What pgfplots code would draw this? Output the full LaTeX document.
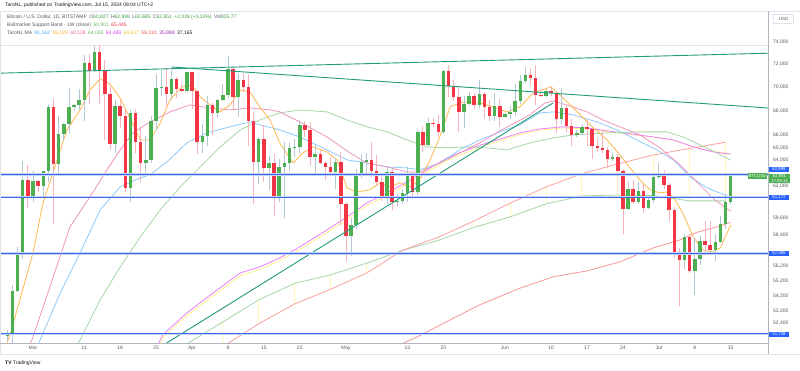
\documentclass[border=0pt]{standalone}
\usepackage{fontspec}
\setmainfont{Liberation Sans}
\usepackage{pgfplots}
\pgfplotsset{compat=1.18}
\definecolor{tvgreen}{RGB}{76,175,80}
\definecolor{tvred}{RGB}{242,54,69}
\definecolor{wickg}{RGB}{178,200,212}
\definecolor{wickr}{RGB}{248,178,186}
\definecolor{hblue}{RGB}{60,105,235}
\definecolor{boxblue}{RGB}{41,98,255}
\definecolor{trendteal}{RGB}{34,155,125}
\definecolor{maorange}{RGB}{255,183,77}
\definecolor{mablue}{RGB}{144,202,249}
\definecolor{mapink}{RGB}{240,150,190}
\definecolor{magreen}{RGB}{165,214,167}
\definecolor{maviolet}{RGB}{234,128,252}
\definecolor{mayellow}{RGB}{255,238,140}
\definecolor{masalmon}{RGB}{248,150,150}
\definecolor{bandred}{RGB}{250,160,160}
\definecolor{bandgreen}{RGB}{165,214,167}
\definecolor{bandfill}{RGB}{255,245,185}
\definecolor{txtgray}{RGB}{85,90,100}
\definecolor{txtdark}{RGB}{19,23,34}
\definecolor{gridgray}{RGB}{224,227,235}
\definecolor{sepgray}{RGB}{178,181,190}
\definecolor{lgreen}{RGB}{67,160,71}
\definecolor{lred}{RGB}{242,54,69}
\definecolor{lblue}{RGB}{66,165,245}
\definecolor{lorange}{RGB}{255,167,38}
\definecolor{lpink}{RGB}{240,98,146}
\definecolor{lgreen2}{RGB}{102,187,106}
\definecolor{lmag}{RGB}{224,64,251}
\definecolor{lyellow}{RGB}{240,200,40}
\definecolor{lsal}{RGB}{239,83,80}
\definecolor{lpurple}{RGB}{156,39,176}
\begin{document}
\begin{tikzpicture}[x=1pt,y=1pt]
\useasboundingbox (0,-27) rectangle (800,343);
\fill[white] (0,-27) rectangle (800,343);
\begin{axis}[
  at={(0,0)}, anchor=south west,
  width=768pt, height=333pt, scale only axis,
  xmin=-6.4327, xmax=143.275,
  ymode=log, ymin=51160, ymax=76980,
  axis line style={draw=none},
  major tick length=0pt, minor tick length=0pt,
  xminorticks=false, yminorticks=false,
  unbounded coords=jump,
  xtick={0,10,17,24,31,38,45,52,61,73,80,92,101,108,115,122,129,136},
  xticklabels={Mar,11,18,25,Apr,8,15,22,May,13,20,Jun,10,17,24,Jul,8,15},
  xticklabel style={font=\fontsize{5}{6}\selectfont, text=txtgray, inner sep=0pt, anchor=north, yshift=-2.5pt},
  ytick pos=right, yticklabel pos=right,
  ytick={52400,53200,54200,55200,56200,58400,59600,62000,64000,65000,66000,68000,70000,72000,74000},
  yticklabels={{52,400},{53,200},{54,200},{55,200},{56,200},{58,400},{59,600},{62,000},{64,000},{65,000},{66,000},{68,000},{70,000},{72,000},{74,000}},
  yticklabel style={font=\fontsize{5}{6}\selectfont, text=txtgray, inner sep=0pt, anchor=west, xshift=5pt},
]
% gray line near top
\addplot[gridgray, line width=0.6pt] coordinates {(-6.4327,73750)(143.275,73750)};
% Bullmarket support band: weekly verticals
\addplot[bandfill, line width=0.9pt] coordinates {
(37,50930)(37,52495)(37,nan)(44,52375)(44,53932)(44,nan)(51,53665)(51,55035)(51,nan)
(58,54645)(58,55612)(58,nan)(65,55728)(65,56418)(65,nan)(79,58016)(79,58245)(79,nan)
(86,58955)(86,59420)(86,nan)(93,59715)(93,60725)(93,nan)(100,60672)(100,61951)(100,nan)
(107,61270)(107,62970)(107,nan)(114,61345)(114,63725)(114,nan)(121,61293)(121,64430)(121,nan)
(128,60897)(128,64950)(128,nan)(135,60901)(135,65445)};
\addplot[bandgreen, line width=0.8pt] coordinates {
(30,51100)(37,52495)(44,53932)(51,55035)(58,55612)(65,56418)(72,57310)(79,58016)(86,58955)
(93,59715)(100,60672)(107,61270)(114,61345)(121,61293)(128,60897)(135,60901)};
\addplot[bandred, line width=0.8pt] coordinates {
(30,49570)(37,50930)(44,52375)(51,53665)(58,54645)(65,55728)(72,57310)(79,58245)(86,59420)
(93,60725)(100,61951)(107,62970)(114,63725)(121,64430)(128,64950)(135,65445)};
% TaroNL MA lines
\addplot[masalmon, line width=0.8pt] coordinates {
(69,50700)(71.5,51040)(74.9,51540)(81.3,52624)(87.1,53610)(94.9,54710)(101.4,55480)(108.0,55885)
(114.4,56506)(120.9,57486)(126.1,58052)(129.4,58596)(132.9,58950)(136,59310)};
\addplot[mayellow, line width=0.8pt] coordinates {
(23.5,50350)(25.3,51500)(30.0,52900)(35.1,54200)(40.4,55560)(44.2,55980)(48.1,56600)(52.0,57370)
(57.3,58580)(61.2,59520)(65.1,60560)(69.0,61320)(72.9,62150)(76.8,63070)(80.7,64000)(84.6,64660)
(88.5,65240)(92.4,65740)(94.9,66080)(98.8,66420)(103.3,66600)(108.0,66530)(111.9,66300)(116.4,66080)
(120.9,65850)(124.8,65620)(128.7,65080)(132.6,64700)(136,64537)};
\addplot[maviolet, line width=0.8pt] coordinates {
(23.5,50500)(25.3,51665)(30.0,53080)(35.1,54397)(40.4,55748)(44.2,56160)(48.1,56784)(52.0,57555)
(57.3,58768)(61.2,59710)(65.1,60747)(69.0,61497)(72.9,62333)(76.8,63258)(80.7,64196)(84.6,64829)
(88.5,65390)(92.4,65870)(94.9,66196)(98.8,66520)(103.3,66690)(108.0,66605)(111.9,66360)(116.4,66120)
(120.9,65870)(124.8,65630)(128.7,65070)(132.6,64670)(136,64489)};
\addplot[magreen, line width=0.8pt] coordinates {
(7.5,50500)(9.2,51349)(13.1,53932)(17.0,56160)(20.9,58265)(24.8,60228)(28.7,61955)(32.6,63490)
(36.5,65070)(40.4,66440)(44.2,67260)(48.1,67840)(52.0,68090)(57.3,67925)(61.2,67260)(65.1,66690)
(69.0,66280)(72.9,65630)(76.8,65070)(80.7,64990)(84.6,65070)(88.5,64990)(92.4,64829)(96.9,65390)
(101.4,65790)(105.3,66040)(111.9,66200)(118.3,66280)(123.6,66280)(126.7,65870)(130.0,65230)
(133.3,64590)(136,64026)};
\addplot[mablue, line width=0.8pt] coordinates {
(0.5,50700)(1.4,51349)(5.3,54380)(9.2,57150)(13.1,60228)(17.0,61955)(20.9,62640)(22.8,62880)
(26.1,63880)(30.0,65390)(33.9,66200)(38.4,66690)(42.3,67095)(44.2,66850)(48.1,66440)(52.0,65870)
(57.3,64829)(61.2,64039)(65.1,63800)(69.0,63490)(72.9,63415)(75.4,63258)(79.3,63800)(83.2,64829)
(87.1,65630)(91.0,66280)(94.9,66850)(98.8,67840)(101.4,67925)(105.3,67675)(110.0,67095)(113.8,66440)
(117.7,65630)(121.6,64829)(124.8,64039)(128.1,62720)(131.4,61875)(136,61162)};
\addplot[mapink, line width=0.8pt] coordinates {
(-1.5,50500)(-0.2,51349)(3.3,54800)(7.2,58985)(11.1,61200)(14.4,63258)(17.0,64829)(19.5,66200)
(22.8,67095)(26.7,67925)(30.6,68510)(34.5,68260)(38.4,68090)(42.3,68260)(46.2,68090)(48.1,67925)
(52.0,67095)(57.3,65870)(61.8,64590)(65.1,63800)(69.0,63490)(72.9,63100)(75.4,63100)(79.3,63800)
(83.2,64590)(87.1,65390)(91.0,66360)(94.3,67095)(96.8,67675)(99.8,68675)(101.4,68840)(104.7,68425)
(108.0,67925)(111.1,67260)(114.4,66690)(118.3,66040)(122.2,64990)(126.1,63650)(130.0,62100)
(132.9,60972)(136,60128)};
\addplot[maorange, line width=0.8pt] coordinates {
(-5.5,50800)(-4.48,51665)(0,57134)(1.95,60747)(3.9,63024)(6.6,66440)(9.2,68090)(11.1,69781)
(13.1,70730)(15.0,70290)(16.96,69100)(18.9,67430)(20.9,65630)(22.8,65630)(24.8,67010)(26.7,68930)
(29.0,70040)(31.0,70210)(32.6,69180)(34.5,68510)(36.5,67925)(38.4,68510)(40.4,69781)(42.3,69610)
(44.2,68340)(46.2,67260)(48.1,65390)(50.7,63800)(52.6,64590)(54.6,65070)(57.3,64670)(59.3,64039)
(61.2,61875)(63.2,61570)(65.7,61724)(67.6,62260)(69.6,61950)(71.5,62260)(73.5,61950)(75.4,62486)
(77.4,64039)(79.3,65870)(81.3,68340)(83.8,68760)(87.1,68675)(89.7,68340)(92.4,67925)(94.9,68340)
(97.5,69525)(101.0,70040)(102.7,69355)(105.3,68255)(108.6,66850)(111.9,65630)(114.4,64430)
(116.4,63415)(118.3,62486)(120.3,61724)(122.2,61500)(123.6,61570)(124.8,61200)(126.7,59970)
(128.7,58265)(130.6,57344)(132.4,57200)(134.0,57486)(136,59129)};
% candle wicks (green)
\addplot[wickg, line width=0.8pt] coordinates {
(-5,51300)(-5,51950)(-5,nan)(-4,50900)(-4,54940)(-4,nan)(-3,54450)(-3,57550)(-3,nan)
(-2,56700)(-2,63950)(-2,nan)(0,60800)(0,63150)(0,nan)(2,61300)(2,63200)(2,nan)
(3,62350)(3,68500)(3,nan)(5,62800)(5,67600)(5,nan)(6,65600)(6,67000)(6,nan)
(7,66150)(7,69950)(7,nan)(8,68000)(8,68600)(8,nan)(9,68100)(9,69900)(9,nan)
(10,67200)(10,72800)(10,nan)(12,71350)(12,73650)(12,nan)(16,64600)(16,68900)(16,nan)
(19,60800)(19,68100)(19,nan)(22,63000)(22,65950)(22,nan)(23,63800)(23,67600)(23,nan)
(24,66400)(24,71150)(24,nan)(25,69300)(25,71550)(25,nan)(27,68900)(27,71500)(27,nan)
(30,69600)(30,71350)(30,nan)(33,64550)(33,66900)(33,nan)(34,65100)(34,69300)(34,nan)
(36,67450)(36,69000)(36,nan)(37,68800)(37,70300)(37,nan)(38,69100)(38,72750)(38,nan)
(40,67500)(40,71150)(40,nan)(44,62150)(44,65850)(44,nan)(46,61700)(46,64350)(46,nan)
(48,60800)(48,64100)(48,nan)(49,59600)(49,65450)(49,nan)(50,63150)(50,65400)(50,nan)
(51,64300)(51,65700)(51,nan)(52,64500)(52,67250)(52,nan)(55,62800)(55,65300)(55,nan)
(59,61800)(59,64200)(59,nan)(62,56900)(62,59600)(62,nan)(63,58800)(63,63300)(63,nan)
(64,62600)(64,64500)(64,nan)(65,62900)(65,64600)(65,nan)(69,60650)(69,63450)(69,nan)
(71,60500)(71,61450)(71,nan)(72,60650)(72,61800)(72,nan)(73,60800)(73,63450)(73,nan)
(75,61350)(75,66450)(75,nan)(77,65150)(77,67400)(77,nan)(80,66100)(80,71500)(80,nan)
(84,66600)(84,69250)(84,nan)(85,68500)(85,69600)(85,nan)(87,68250)(87,70650)(87,nan)
(90,67150)(90,69500)(90,nan)(92,67400)(92,67850)(92,nan)(93,67300)(93,68400)(93,nan)
(94,67600)(94,70250)(94,nan)(95,68600)(95,71050)(95,nan)(96,70400)(96,71750)(96,nan)
(100,69150)(100,69850)(100,nan)(103,66900)(103,69950)(103,nan)(106,65900)(106,66450)(106,nan)
(107,66050)(107,66950)(107,nan)(113,63950)(113,64500)(113,nan)(116,60250)(116,62350)(116,nan)
(118,60650)(118,62300)(118,nan)(120,60300)(120,61150)(120,nan)(121,60750)(121,63000)(121,nan)
(122,62550)(122,63800)(122,nan)(127,56000)(127,58450)(127,nan)(129,54250)(129,58200)(129,nan)
(130,56300)(130,58300)(130,nan)(133,56600)(133,58500)(133,nan)(134,57800)(134,59800)(134,nan)
(135,58800)(135,61400)(135,nan)(136,60685)(136,62998)};
% candle wicks (red)
\addplot[wickr, line width=0.8pt] coordinates {
(-1,60400)(-1,63650)(-1,nan)(1,61600)(1,62450)(1,nan)(4,59200)(4,69000)(4,nan)
(11,68600)(11,72950)(11,nan)(13,68600)(13,73750)(13,nan)(14,65600)(14,72400)(14,nan)
(15,64800)(15,70000)(15,nan)(17,66600)(17,68950)(17,nan)(18,61550)(18,68100)(18,nan)
(20,64550)(20,68200)(20,nan)(21,62300)(21,66650)(21,nan)(26,68400)(26,71700)(26,nan)
(28,69100)(28,70900)(28,nan)(29,69600)(29,70300)(29,nan)(31,68200)(31,71300)(31,nan)
(32,64500)(32,69700)(32,nan)(35,66000)(35,68700)(35,nan)(39,68200)(39,71750)(39,nan)
(41,69600)(41,71250)(41,nan)(42,65100)(42,71200)(42,nan)(43,60700)(43,67950)(43,nan)
(45,62300)(45,66800)(45,nan)(47,59800)(47,64500)(47,nan)(53,65850)(53,67200)(53,nan)
(54,63600)(54,67050)(54,nan)(56,63750)(56,64800)(56,nan)(57,62450)(57,63950)(57,nan)
(58,62800)(58,64300)(58,nan)(60,59100)(60,64700)(60,nan)(61,56550)(61,60800)(61,nan)
(66,62700)(66,65500)(66,nan)(67,62050)(67,64400)(67,nan)(68,60900)(68,62950)(68,nan)
(70,60200)(70,63450)(70,nan)(74,61150)(74,63100)(74,nan)(76,64650)(76,66750)(76,nan)
(78,66650)(78,67400)(78,nan)(79,65900)(79,67650)(79,nan)(81,69200)(81,71950)(81,nan)
(82,68850)(82,70650)(82,nan)(83,66300)(83,70050)(83,nan)(86,68200)(86,69550)(86,nan)
(88,67300)(88,69600)(88,nan)(89,67150)(89,68950)(89,nan)(91,66650)(91,69000)(91,nan)
(97,70200)(97,71650)(97,nan)(98,68500)(98,71950)(98,nan)(99,69200)(99,69550)(99,nan)
(101,69250)(101,70150)(101,nan)(102,66150)(102,69550)(102,nan)(104,66300)(104,68450)(104,nan)
(105,65100)(105,67300)(105,nan)(108,65100)(108,67250)(108,nan)(109,64100)(109,66550)(109,nan)
(110,64700)(110,65700)(110,nan)(111,64550)(111,66450)(111,nan)(112,63400)(112,65050)(112,nan)
(114,63150)(114,64500)(114,nan)(115,58450)(115,63350)(115,nan)(117,60650)(117,62450)(117,nan)
(119,60000)(119,62200)(119,nan)(123,61800)(123,63250)(123,nan)(124,59450)(124,62250)(124,nan)
(125,56800)(125,60450)(125,nan)(126,53500)(126,57500)(126,nan)(128,55750)(128,58450)(128,nan)
(131,57150)(131,59450)(131,nan)(132,57000)(132,59450)};
% candle bodies (green)
\addplot[tvgreen, line width=3.5pt] coordinates {
(-5,51600)(-5,51730)(-5,nan)(-4,51730)(-4,54500)(-4,nan)(-3,54500)(-3,57050)(-3,nan)
(-2,57050)(-2,62450)(-2,nan)(0,61180)(0,62400)(0,nan)(2,62050)(2,63150)(2,nan)
(3,63150)(3,68300)(3,nan)(5,63750)(5,66100)(5,nan)(6,66100)(6,66900)(6,nan)
(7,66900)(7,68300)(7,nan)(8,68300)(8,68500)(8,nan)(9,68500)(9,68950)(9,nan)
(10,68950)(10,72100)(10,nan)(12,71450)(12,73100)(12,nan)(16,65300)(16,68400)(16,nan)
(19,61900)(19,67850)(19,nan)(22,63800)(22,64050)(22,nan)(23,64050)(23,67200)(23,nan)
(24,67200)(24,69950)(24,nan)(25,69950)(25,70050)(25,nan)(27,69450)(27,70750)(27,nan)
(30,69650)(30,71300)(30,nan)(33,65450)(33,65950)(33,nan)(34,65950)(34,68500)(34,nan)
(36,67850)(36,68900)(36,nan)(37,68900)(37,69350)(37,nan)(38,69350)(38,71600)(38,nan)
(40,69150)(40,70650)(40,nan)(44,63900)(44,65700)(44,nan)(46,63400)(46,63800)(46,nan)
(48,61300)(48,63500)(48,nan)(49,63500)(49,63800)(49,nan)(50,63800)(50,64950)(50,nan)
(51,64950)(51,65050)(51,nan)(52,65050)(52,66850)(52,nan)(55,64300)(55,64500)(55,nan)
(59,63100)(59,63850)(59,nan)(62,58300)(62,59100)(62,nan)(63,59100)(63,62900)(63,nan)
(64,62900)(64,63900)(64,nan)(65,63900)(65,64050)(65,nan)(69,61200)(69,63100)(69,nan)
(71,60800)(71,60900)(71,nan)(72,60900)(72,61500)(72,nan)(73,61500)(73,62950)(73,nan)
(75,61600)(75,66300)(75,nan)(77,65250)(77,67000)(77,nan)(80,66300)(80,71450)(80,nan)
(84,67950)(84,68550)(84,nan)(85,68550)(85,69300)(85,nan)(87,68500)(87,69400)(87,nan)
(90,67600)(90,68400)(90,nan)(92,67500)(92,67750)(92,nan)(93,67750)(93,67900)(93,nan)
(94,67900)(94,68850)(94,nan)(95,68850)(95,70550)(95,nan)(96,70550)(96,71100)(96,nan)
(100,69250)(100,69650)(100,nan)(103,67300)(103,68250)(103,nan)(106,66000)(106,66200)(106,nan)
(107,66200)(107,66650)(107,nan)(113,64100)(113,64250)(113,nan)(116,60300)(116,61800)(116,nan)
(118,60850)(118,61650)(118,nan)(120,60350)(120,60950)(120,nan)(121,60950)(121,62700)(121,nan)
(122,62700)(122,62900)(122,nan)(127,56650)(127,58250)(127,nan)(129,55850)(129,56700)(129,nan)
(130,56700)(130,57950)(130,nan)(133,57350)(133,57900)(133,nan)(134,57900)(134,59200)(134,nan)
(135,59200)(135,60827)(135,nan)(136,60827)(136,62851)};
% candle bodies (red)
\addplot[tvred, line width=3.5pt] coordinates {
(-1,62450)(-1,61180)(-1,nan)(1,62400)(1,62050)(1,nan)(4,68300)(4,63750)(4,nan)
(11,72100)(11,71450)(11,nan)(13,73100)(13,71400)(13,nan)(14,71400)(14,69450)(14,nan)
(15,69450)(15,65300)(15,nan)(17,68400)(17,67600)(17,nan)(18,67600)(18,61900)(18,nan)
(20,67850)(20,65500)(20,nan)(21,65500)(21,63800)(21,nan)(26,70050)(26,69450)(26,nan)
(28,70750)(28,69900)(28,nan)(29,69900)(29,69650)(29,nan)(31,71300)(31,69700)(31,nan)
(32,69700)(32,65450)(32,nan)(35,68500)(35,67850)(35,nan)(39,71600)(39,69150)(39,nan)
(41,70650)(41,70000)(41,nan)(42,70000)(42,67150)(42,nan)(43,67150)(43,63900)(43,nan)
(45,65700)(45,63400)(45,nan)(47,63800)(47,61300)(47,nan)(53,66850)(53,66400)(53,nan)
(54,66400)(54,64300)(54,nan)(56,64500)(56,63800)(56,nan)(57,63800)(57,63450)(57,nan)
(58,63450)(58,63100)(58,nan)(60,63850)(60,60650)(60,nan)(61,60650)(61,58300)(61,nan)
(66,64050)(66,63150)(66,nan)(67,63150)(67,62300)(67,nan)(68,62300)(68,61200)(68,nan)
(70,63100)(70,60800)(70,nan)(74,62950)(74,61600)(74,nan)(76,66300)(76,65250)(76,nan)
(78,67000)(78,66900)(78,nan)(79,66900)(79,66300)(79,nan)(81,71450)(81,70150)(81,nan)
(82,70150)(82,69200)(82,nan)(83,69200)(83,67950)(83,nan)(86,69300)(86,68500)(86,nan)
(88,69400)(88,68350)(88,nan)(89,68350)(89,67600)(89,nan)(91,68400)(91,67500)(91,nan)
(97,71100)(97,70800)(97,nan)(98,70800)(98,69350)(98,nan)(99,69350)(99,69250)(99,nan)
(101,69650)(101,69500)(101,nan)(102,69500)(102,67300)(102,nan)(104,68250)(104,66750)(104,nan)
(105,66750)(105,66000)(105,nan)(108,66650)(108,66500)(108,nan)(109,66500)(109,65150)(109,nan)
(110,65150)(110,64950)(110,nan)(111,64950)(111,64850)(111,nan)(112,64850)(112,64100)(112,nan)
(114,64250)(114,63200)(114,nan)(115,63200)(115,60300)(115,nan)(117,61800)(117,60850)(117,nan)
(119,61650)(119,60350)(119,nan)(123,62900)(123,62100)(123,nan)(124,62100)(124,60200)(124,nan)
(125,60200)(125,57050)(125,nan)(126,57050)(126,56650)(126,nan)(128,58250)(128,55850)(128,nan)
(131,57950)(131,57700)(131,nan)(132,57700)(132,57350)};
% trend lines
\addplot[trendteal, line width=0.9pt] coordinates {(-6.4327,71230)(143.275,73000)};
\addplot[trendteal, line width=0.9pt] coordinates {(27,71770)(143.275,68250)};
\addplot[trendteal, line width=0.9pt] coordinates {(22.8,50505)(101.4,68680)};
% horizontal support lines
\addplot[hblue!30, line width=2.6pt] coordinates {(-6.4327,62899)(143.275,62899)};
\addplot[hblue, line width=1pt] coordinates {(-6.4327,62899)(143.275,62899)};
\addplot[hblue!30, line width=2.6pt] coordinates {(-6.4327,61177)(143.275,61177)};
\addplot[hblue, line width=1pt] coordinates {(-6.4327,61177)(143.275,61177)};
\addplot[hblue!30, line width=2.6pt] coordinates {(-6.4327,57085)(143.275,57085)};
\addplot[hblue, line width=1pt] coordinates {(-6.4327,57085)(143.275,57085)};
\addplot[hblue!30, line width=2.6pt] coordinates {(-6.4327,51728)(143.275,51728)};
\addplot[hblue, line width=1pt] coordinates {(-6.4327,51728)(143.275,51728)};
\end{axis}
% frame and separators
\draw[gridgray, line width=0.5pt] (0.25,-11) rectangle (799.75,331.5);
\draw[sepgray, line width=0.6pt] (768,-11) -- (768,331.5);
\draw[sepgray, line width=0.6pt] (0,0) -- (768,0);
% header and legend
\node[anchor=west, inner sep=0pt, font=\fontsize{5}{6}\selectfont, text=txtdark] at (5,338) {TaroNL, published on TradingView.com, Jul 15, 2024 08:04 UTC+2};
\node[anchor=west, inner sep=0pt, font=\fontsize{5}{6}\selectfont, text=txtgray] at (7,326) {Bitcoin / U.S. Dollar, 1D, BITSTAMP\enspace O\textcolor{lgreen}{60,827}\enspace H\textcolor{lgreen}{62,998}\enspace L\textcolor{lgreen}{60,685}\enspace C\textcolor{lgreen}{62,851}\enspace\textcolor{lgreen}{+2,028 (+3.33\%)}\enspace Vol\textcolor{lgreen}{935.77}};
\node[anchor=west, inner sep=0pt, font=\fontsize{5}{6}\selectfont, text=txtgray] at (7,318) {Bullmarket Support Band - 1W (close)\enspace\textcolor{lgreen2}{60,901}\enspace\textcolor{lred}{65,445}};
\node[anchor=west, inner sep=0pt, font=\fontsize{5}{6}\selectfont, text=txtgray] at (7,310) {TaroNL MA\enspace\textcolor{lblue}{61,162}\enspace\textcolor{lorange}{59,129}\enspace\textcolor{lpink}{60,128}\enspace\textcolor{lgreen2}{64,026}\enspace\textcolor{lmag}{64,489}\enspace\textcolor{lyellow}{64,537}\enspace\textcolor{lsal}{59,310}\enspace\textcolor{lpurple}{35,998}\enspace\textcolor{txtdark}{37,165}};
% right side boxes
\node[draw=gridgray, fill=white, inner sep=0pt, minimum width=20pt, minimum height=9pt, font=\fontsize{4.5}{5}\selectfont, text=txtgray] at (783.5,324) {USD};
\node[fill=boxblue, text=white, inner sep=0.5pt, minimum width=20pt, minimum height=5.6pt, font=\fontsize{4.3}{5}\selectfont] at (779,173.5) {62,899};
\node[fill=tvgreen, text=white, inner sep=0.5pt, minimum width=21pt, align=center, font=\fontsize{4.3}{5}\selectfont] at (779.5,164.7) {62,851\\17:05:14};
\node[fill=boxblue, text=white, inner sep=0.5pt, minimum width=20pt, minimum height=5.6pt, font=\fontsize{4.3}{5}\selectfont] at (779,145.5) {61,177};
\node[fill=boxblue, text=white, inner sep=0.5pt, minimum width=20pt, minimum height=5.6pt, font=\fontsize{4.3}{5}\selectfont] at (779,89.5) {57,085};
\node[fill=boxblue, text=white, inner sep=0.5pt, minimum width=20pt, minimum height=5.6pt, font=\fontsize{4.3}{5}\selectfont] at (779,8.7) {51,728};
\node[fill=tvgreen, text=white, inner sep=0.5pt, minimum width=18pt, minimum height=5.6pt, font=\fontsize{4.3}{5}\selectfont] at (757.5,167.3) {BTCUSD};
% logo
\node[anchor=west, inner sep=0pt, font=\fontsize{5}{6}\selectfont, text=txtdark] at (5,-20) {\textbf{TV}\ TradingView};
\end{tikzpicture}
\end{document}
